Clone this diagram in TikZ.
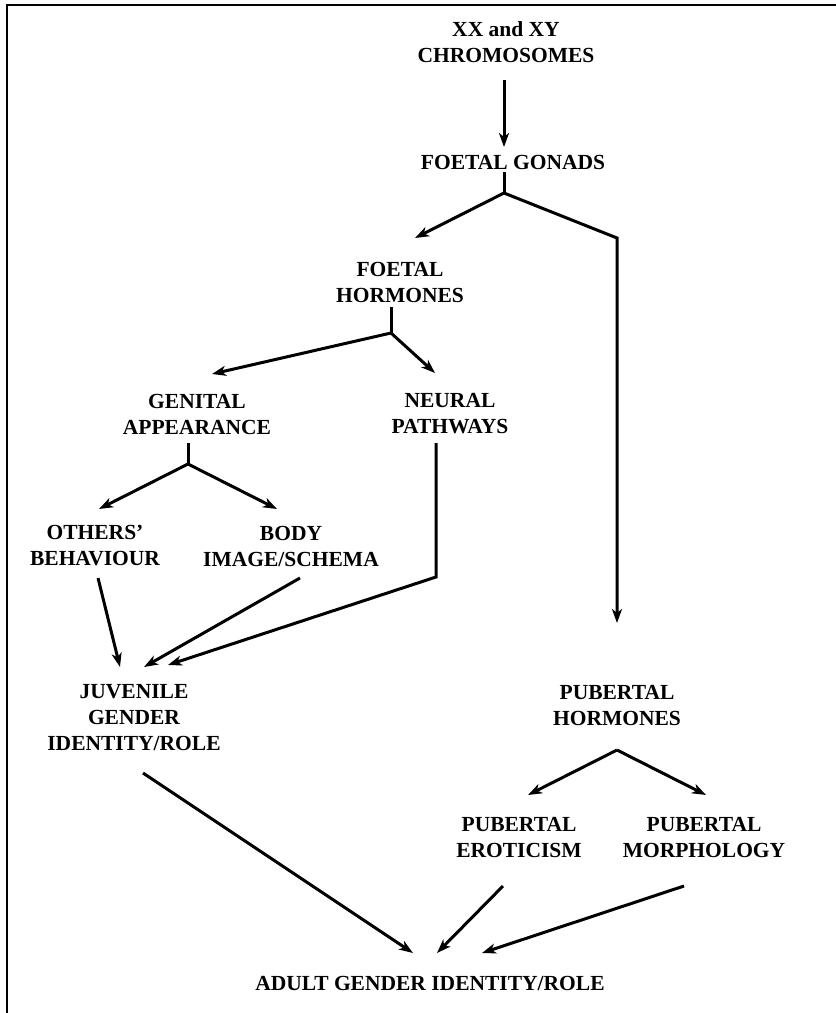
\documentclass[tikz,border=0pt]{standalone}
\usepackage{fontspec}
\setmainfont{Liberation Serif}
\usetikzlibrary{arrows.meta,calc}
\begin{document}
\begin{tikzpicture}[x=1pt,y=-1pt,
  lbl/.style={inner sep=0pt,align=center,font=\fontsize{21.5}{26}\selectfont\bfseries},
  link/.style={line width=3pt,line join=miter},
  arr/.style={link,-{Stealth[length=14pt,width=10pt,inset=4pt]}},
  frameline/.style={line width=2pt}]
\useasboundingbox (0,0) rectangle (836,1013);
\draw[frameline] (7,1013) -- (7,4.5) -- (836,4.5);

\node[lbl] (chrom)  at (506,42.5) {XX and XY\\CHROMOSOMES};
\node[lbl] (gonads) at (513,162)  {FOETAL GONADS};
\node[lbl] (fh)     at (400,282)  {FOETAL\\HORMONES};
\node[lbl] (genital) at (197,414) {GENITAL\\APPEARANCE};
\node[lbl] (neural) at (450,414)  {NEURAL\\PATHWAYS};
\node[lbl] (others) at (95,546)   {OTHERS’\\BEHAVIOUR};
\node[lbl] (body)   at (291,546)  {BODY\\IMAGE/SCHEMA};
\node[lbl] (juv)    at (134,718)  {JUVENILE\\GENDER\\IDENTITY/ROLE};
\node[lbl] (pubh)   at (617,705)  {PUBERTAL\\HORMONES};
\node[lbl] (perot)  at (519,837.5) {PUBERTAL\\EROTICISM};
\node[lbl] (pmorph) at (704,837.5) {PUBERTAL\\MORPHOLOGY};
\node[lbl] (adult)  at (430,983)  {ADULT GENDER IDENTITY/ROLE};

\coordinate (b1) at (504,193);
\coordinate (c1) at (617,238);
\coordinate (b2) at (391,333);
\coordinate (b3) at (188,464);
\coordinate (c2) at (436,577);

% chromosomes -> gonads
\draw[arr] ($(chrom)+(-2,37.5)$) -- ($(gonads)+(-9,-15)$);
% gonads -> foetal hormones / pubertal hormones
\draw[link] ($(gonads)+(-9,10)$) -- (b1);
\draw[arr] (b1) -- ($(fh)+(15,-44)$);
\draw[arr] (b1) -- (c1) -- ($(pubh)+(0,-82)$);
% foetal hormones -> genital / neural
\draw[link] ($(fh)+(-9,25)$) -- (b2);
\draw[arr] (b2) -- ($(genital)+(15,-40)$);
\draw[arr] (b2) -- ($(neural)+(-15,-41)$);
% genital -> others / body
\draw[link] ($(genital)+(-9,29)$) -- (b3);
\draw[arr] (b3) -- ($(others)+(4,-37)$);
\draw[arr] (b3) -- ($(body)+(-14,-37)$);
% into juvenile
\draw[arr] ($(neural)+(-14,29)$) -- (c2) -- ($(juv)+(34,-53)$);
\draw[arr] ($(others)+(3,32)$) -- ($(juv)+(-14,-51)$);
\draw[arr] ($(body)+(9,32)$) -- ($(juv)+(10,-51)$);
% pubertal hormones -> eroticism / morphology
\draw[arr] ($(pubh)+(0,45)$) -- ($(perot)+(9,-42.5)$);
\draw[arr] ($(pubh)+(0,45)$) -- ($(pmorph)+(2,-42.5)$);
% into adult
\draw[arr] ($(juv)+(9,55)$) -- ($(adult)+(-17,-30)$);
\draw[arr] ($(perot)+(-16,48.5)$) -- ($(adult)+(7,-30)$);
\draw[arr] ($(pmorph)+(-20,48.5)$) -- ($(adult)+(52,-30)$);
\end{tikzpicture}
\end{document}
